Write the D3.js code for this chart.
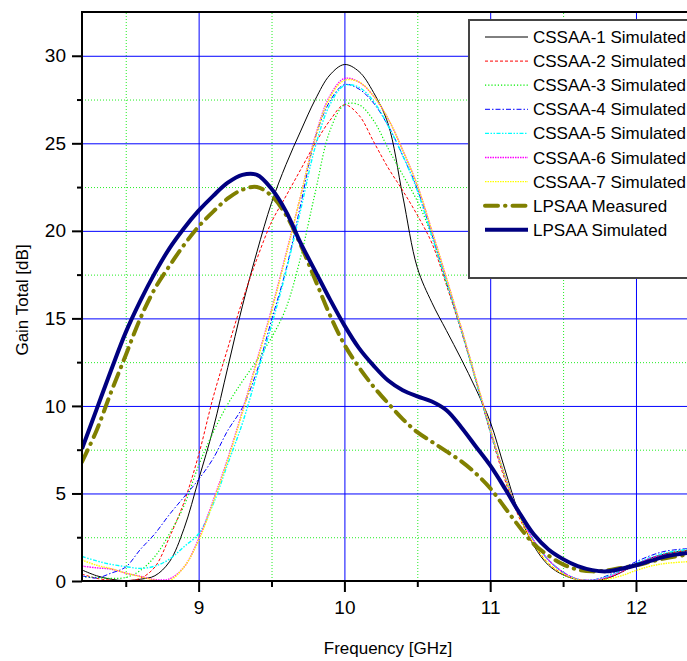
<!DOCTYPE html>
<html>
<head>
<meta charset="utf-8">
<script src="https://cdn.jsdelivr.net/npm/d3@7/dist/d3.min.js"></script>
<style>
  body { margin: 0; background: #fff; }
  text { font-family: "Liberation Sans", Arial, sans-serif; fill: #000; }
</style>
</head>
<body>
<svg id="chart" width="687" height="661"></svg>
<script>
// frequency samples [GHz]
var freq = [8.2, 8.3, 8.4, 8.5, 8.6, 8.7, 8.8, 8.9, 9.0, 9.1, 9.2, 9.3, 9.4, 9.5, 9.6, 9.7, 9.8, 9.9,
  10.0, 10.1, 10.2, 10.3, 10.4, 10.5, 10.6, 10.7, 10.8, 10.9, 11.0, 11.1, 11.2, 11.3, 11.4, 11.5,
  11.6, 11.7, 11.8, 11.9, 12.0, 12.1, 12.2, 12.35];

// gain total [dB]
var cssaa1 = [0.63, 0.3, 0.1, 0.02, 0.1, 0.3, 1.1, 3.0, 5.8, 8.7, 12.2, 15.7, 18.8, 21.6, 23.8, 25.7, 27.5, 28.9,
  29.5, 29.1, 27.9, 26.1, 22.0, 17.9, 15.9, 14.3, 12.7, 11.0, 9.1, 6.4, 3.8, 2.0, 0.9, 0.35,
  0.08, 0.02, 0.15, 0.5, 0.95, 1.3, 1.55, 1.75];
var cssaa2 = [0.4, 0.15, 0.05, 0.02, 0.15, 0.8, 2.5, 4.5, 7.2, 10.5, 13.3, 16.0, 18.4, 20.5, 22.0, 23.5, 25.0, 26.3,
  27.2, 26.6, 25.1, 23.6, 22.3, 20.9, 19.3, 16.9, 14.3, 11.5, 8.5, 5.8, 3.6, 2.1, 1.0, 0.4,
  0.1, 0.02, 0.15, 0.5, 0.95, 1.3, 1.55, 1.75];
var cssaa3 = [0.25, 0.2, 0.15, 0.2, 0.6, 1.4, 2.7, 4.3, 6.6, 8.5, 10.1, 11.4, 12.6, 13.9, 15.6, 18.5, 22.2, 25.7,
  27.2, 27.2, 26.3, 24.7, 23.2, 21.7, 19.7, 17.0, 14.4, 11.5, 8.6, 6.0, 3.8, 2.3, 1.2, 0.5,
  0.1, 0.05, 0.2, 0.55, 0.95, 1.3, 1.5, 1.7];
var cssaa4 = [0.3, 0.17, 0.45, 0.8, 1.8, 2.7, 3.8, 4.8, 5.8, 7.0, 8.6, 9.9, 12.0, 14.9, 17.8, 21.5, 25.3, 27.4,
  28.35, 28.1, 27.3, 26.0, 24.3, 22.4, 19.8, 17.1, 14.4, 11.5, 8.6, 6.0, 3.8, 2.3, 1.2, 0.5,
  0.1, 0.05, 0.3, 0.7, 1.1, 1.45, 1.7, 1.85];
var cssaa5 = [1.4, 1.15, 0.95, 0.82, 0.72, 0.85, 1.25, 1.96, 2.7, 4.4, 6.7, 9.0, 11.8, 14.6, 17.7, 21.2, 24.8, 27.2,
  28.3, 28.2, 27.4, 26.0, 24.3, 22.3, 19.7, 17.1, 14.4, 11.5, 8.6, 6.0, 3.8, 2.3, 1.2, 0.5,
  0.1, 0.05, 0.25, 0.6, 1.0, 1.35, 1.6, 1.8];
var cssaa6 = [0.85, 0.75, 0.68, 0.45, 0.27, 0.08, 0.12, 0.8, 2.4, 4.6, 7.0, 9.7, 12.6, 15.5, 18.7, 22.0, 25.4, 27.7,
  28.7, 28.5, 27.7, 26.4, 24.6, 22.6, 20.0, 17.3, 14.5, 11.6, 8.7, 6.0, 3.8, 2.3, 1.2, 0.5,
  0.1, 0.05, 0.2, 0.55, 0.95, 1.3, 1.5, 1.65];
var cssaa7 = [1.2, 0.9, 0.7, 0.45, 0.25, 0.05, 0.03, 0.8, 2.3, 4.5, 6.9, 9.6, 12.5, 15.4, 18.6, 22.0, 25.3, 27.6,
  28.6, 28.5, 27.7, 26.4, 24.6, 22.6, 20.0, 17.3, 14.5, 11.6, 8.7, 6.0, 3.7, 2.1, 1.0, 0.4,
  0.08, 0.02, 0.1, 0.3, 0.6, 0.85, 1.0, 1.1];
var lpsaaMeasured = [6.8, 8.6, 10.8, 12.9, 15.0, 16.7, 18.0, 19.2, 20.25, 21.1, 21.85, 22.35, 22.5, 22.0, 20.9, 19.2, 17.2, 15.2,
  13.5, 12.2, 11.1, 10.15, 9.25, 8.5, 7.95, 7.4, 6.85, 6.15, 5.3, 4.2, 3.1, 2.1, 1.45, 0.95,
  0.65, 0.55, 0.6, 0.75, 0.9, 1.1, 1.3, 1.5];
var lpsaaSimulated = [7.55, 9.8, 12.05, 14.2, 16.0, 17.6, 19.0, 20.15, 21.15, 22.0, 22.75, 23.2, 23.2, 22.4, 21.1, 19.3, 17.7, 16.1,
  14.6, 13.3, 12.3, 11.45, 10.9, 10.55, 10.25, 9.75, 8.8, 7.7, 6.6, 5.3, 3.9, 2.65, 1.8, 1.25,
  0.85, 0.62, 0.55, 0.7, 0.9, 1.15, 1.4, 1.6];

var seriesNames = ["CSSAA-1 Simulated", "CSSAA-2 Simulated", "CSSAA-3 Simulated", "CSSAA-4 Simulated",
  "CSSAA-5 Simulated", "CSSAA-6 Simulated", "CSSAA-7 Simulated", "LPSAA Measured", "LPSAA Simulated"];
var seriesValues = [cssaa1, cssaa2, cssaa3, cssaa4, cssaa5, cssaa6, cssaa7, lpsaaMeasured, lpsaaSimulated];

var xMajor = [9, 10, 11, 12];
var xMinor = [8.5, 9.5, 10.5, 11.5];
var yMajor = [0, 5, 10, 15, 20, 25, 30];
var yMinor = [2.5, 7.5, 12.5, 17.5, 22.5, 27.5];

// line styles, same order as seriesNames
var styles = [
  { color: "#000000", width: 1, dash: null },
  { color: "#ff0000", width: 1, dash: "3,2" },
  { color: "#00ee00", width: 1.2, dash: "1.2,2" },
  { color: "#0000ff", width: 1, dash: "5,2,1.5,2" },
  { color: "#00ffff", width: 1.4, dash: "4,1.5,1.5,1.5,1.5,1.5" },
  { color: "#ff00ff", width: 1.4, dash: "1.5,1" },
  { color: "#ffff00", width: 1.4, dash: "1.5,1" },
  { color: "#808000", width: 4, dash: "13,7,0.5,7", cap: "round" },
  { color: "#000080", width: 4, dash: null }
];

(function () {
  var svg = d3.select("#chart");
  var pLeft = 82, pTop = 12, pRight = 687, pBottom = 581;

  var x = d3.scaleLinear().domain([8.2, 12.35]).range([pLeft, pRight]);
  var y = d3.scaleLinear().domain([0, 32.5]).range([pBottom, pTop]);

  svg.append("defs").append("clipPath").attr("id", "plot")
    .append("rect").attr("x", pLeft).attr("y", pTop)
    .attr("width", pRight - pLeft).attr("height", pBottom - pTop);

  /* grid */
  var grid = svg.append("g").attr("class", "grid");
  function gridLines(axis, stroke, dash) {
    var g = grid.append("g").call(axis);
    g.select(".domain").remove();
    g.selectAll("text").remove();
    g.selectAll("line").attr("stroke", stroke).attr("stroke-width", 1).attr("stroke-dasharray", dash);
    return g;
  }
  gridLines(d3.axisBottom(x).tickValues(xMinor).tickSize(-(pBottom - pTop)), "#22ee22", "1,2")
    .attr("transform", "translate(0," + pBottom + ")");
  gridLines(d3.axisLeft(y).tickValues(yMinor).tickSize(-(pRight - pLeft)), "#22ee22", "1,2")
    .attr("transform", "translate(" + pLeft + ",0)");
  gridLines(d3.axisBottom(x).tickValues(xMajor).tickSize(-(pBottom - pTop)), "#0000ff", null)
    .attr("transform", "translate(0," + pBottom + ")");
  gridLines(d3.axisLeft(y).tickValues(yMajor.slice(1)).tickSize(-(pRight - pLeft)), "#0000ff", null)
    .attr("transform", "translate(" + pLeft + ",0)");

  /* curves */
  var line = d3.line()
    .curve(d3.curveCatmullRom.alpha(0.5))
    .x(function (d, i) { return x(freq[i]); })
    .y(function (d) { return y(d); });

  var curves = svg.append("g").attr("clip-path", "url(#plot)");
  seriesValues.forEach(function (vals, i) {
    var s = styles[i];
    curves.append("path")
      .attr("d", line(vals))
      .attr("fill", "none")
      .attr("stroke", s.color)
      .attr("stroke-width", s.width)
      .attr("stroke-dasharray", s.dash)
      .attr("stroke-linecap", s.cap || "butt")
      .attr("stroke-linejoin", "round");
  });

  /* axes */
  function styleAxis(g) {
    g.select(".domain").remove();
    g.selectAll("line").attr("stroke", "#000").attr("stroke-width", 2);
    g.selectAll("text").style("font-size", "19px").attr("fill", "#000");
  }
  styleAxis(svg.append("g").attr("transform", "translate(0," + pBottom + ")")
    .call(d3.axisBottom(x).tickValues(xMajor).tickSize(11).tickPadding(9).tickFormat(d3.format("d"))));
  styleAxis(svg.append("g").attr("transform", "translate(0," + pBottom + ")")
    .call(d3.axisBottom(x).tickValues(xMinor).tickSize(6).tickFormat("")));
  styleAxis(svg.append("g").attr("transform", "translate(" + pLeft + ",0)")
    .call(d3.axisLeft(y).tickValues(yMajor).tickSize(10).tickPadding(6).tickFormat(d3.format("d"))));
  styleAxis(svg.append("g").attr("transform", "translate(" + pLeft + ",0)")
    .call(d3.axisLeft(y).tickValues(yMinor).tickSize(5).tickFormat("")));

  // frame lines: left, bottom, top
  svg.append("line").attr("x1", pLeft).attr("x2", pLeft).attr("y1", pTop - 1).attr("y2", pBottom + 1)
    .attr("stroke", "#000").attr("stroke-width", 2);
  svg.append("line").attr("x1", pLeft).attr("x2", pRight).attr("y1", pBottom).attr("y2", pBottom)
    .attr("stroke", "#000").attr("stroke-width", 2);
  svg.append("line").attr("x1", pLeft).attr("x2", pRight).attr("y1", pTop).attr("y2", pTop)
    .attr("stroke", "#000").attr("stroke-width", 2);

  /* axis titles */
  svg.append("text").attr("x", 388).attr("y", 654).attr("text-anchor", "middle")
    .style("font-size", "17px").text("Frequency [GHz]");
  svg.append("text").attr("transform", "translate(28,300) rotate(-90)").attr("text-anchor", "middle")
    .style("font-size", "17px").text("Gain Total [dB]");

  /* legend */
  var legend = svg.append("g");
  legend.append("rect").attr("x", 469).attr("y", 20).attr("width", 240).attr("height", 258)
    .attr("fill", "#fff").attr("stroke", "#444").attr("stroke-width", 2);
  seriesNames.forEach(function (name, i) {
    var s = styles[i];
    var ry = 37 + i * 24.1;
    legend.append("line").attr("x1", 485).attr("x2", 528).attr("y1", ry).attr("y2", ry)
      .attr("stroke", s.color).attr("stroke-width", s.width)
      .attr("stroke-dasharray", s.dash).attr("stroke-linecap", s.cap || "butt");
    legend.append("text").attr("x", 533).attr("y", ry + 6).style("font-size", "17px").text(name);
  });
})();
</script>
</body>
</html>
